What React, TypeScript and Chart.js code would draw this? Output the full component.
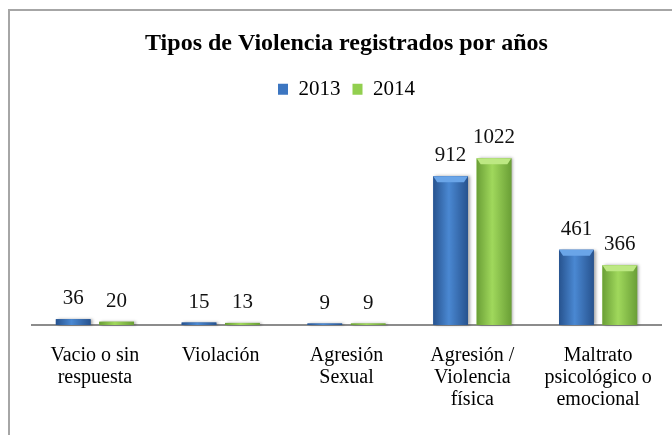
import React, { useEffect, useRef } from "react";
import { Chart, registerables } from "chart.js";

Chart.register(...registerables);

const chartTitle = "Tipos de Violencia registrados por años";
const categories: string[][] = [
  ["Vacio o sin", "respuesta"],
  ["Violación"],
  ["Agresión", "Sexual"],
  ["Agresión /", "Violencia", "física"],
  ["Maltrato", "psicológico o", "emocional"],
];
const seriesNames = ["2013", "2014"];
const values2013 = [36, 15, 9, 912, 461];
const values2014 = [20, 13, 9, 1022, 366];
const yMax = 1200;

const barStyles = [
  { base: "#3c76c1", edge: "#27538f", mid: "#4a88d2", top: "#6aa5e8" },
  { base: "#92cf4f", edge: "#6a9f36", mid: "#a0d85c", top: "#bde883" },
];

const serif = "'Liberation Serif', 'Times New Roman', serif";
const legendBoxHeight = 62.5;

const legendSpacer = {
  id: "legendSpacer",
  afterInit(chart: any) {
    const lg = chart.legend;
    if (!lg) return;
    const fit = lg.fit.bind(lg);
    lg.fit = () => {
      fit();
      lg.height = legendBoxHeight;
    };
  },
};

const barDecor = {
  id: "barDecor",
  afterDatasetsDraw(chart: any) {
    const ctx = chart.ctx;
    chart.data.datasets.forEach((ds: any, di: number) => {
      const meta = chart.getDatasetMeta(di);
      const st = barStyles[di];
      meta.data.forEach((el: any) => {
        const { x, y, width, base } = el.getProps(["x", "y", "width", "base"], true);
        const left = x - width / 2;
        const right = x + width / 2;
        const top = Math.min(y, base);
        const h = Math.abs(base - y);
        ctx.save();
        ctx.shadowColor = "rgba(0,0,0,0.35)";
        ctx.shadowOffsetX = 2;
        ctx.shadowOffsetY = 0;
        ctx.shadowBlur = 3;
        const g = ctx.createLinearGradient(left, 0, right, 0);
        g.addColorStop(0, st.edge);
        g.addColorStop(0.45, st.mid);
        g.addColorStop(1, st.edge);
        ctx.fillStyle = g;
        ctx.fillRect(left, top, width, h);
        ctx.restore();
        if (h > 10) {
          const bev = 6;
          ctx.save();
          ctx.fillStyle = st.top;
          ctx.beginPath();
          ctx.moveTo(left, top);
          ctx.lineTo(right, top);
          ctx.lineTo(right - 4, top + bev);
          ctx.lineTo(left + 4, top + bev);
          ctx.closePath();
          ctx.fill();
          ctx.restore();
        }
      });
    });
    ctx.save();
    ctx.font = `21px ${serif}`;
    ctx.fillStyle = "#111";
    ctx.textAlign = "center";
    ctx.textBaseline = "alphabetic";
    chart.data.datasets.forEach((ds: any, di: number) => {
      const meta = chart.getDatasetMeta(di);
      meta.data.forEach((el: any, i: number) => {
        const { x, y } = el.getProps(["x", "y"], true);
        ctx.fillText(String(ds.data[i]), x, y - 15);
      });
    });
    ctx.restore();
  },
};

export default function App() {
  const ref = useRef<HTMLCanvasElement | null>(null);
  useEffect(() => {
    if (!ref.current) return;
    const chart = new Chart(ref.current, {
      type: "bar",
      data: {
        labels: categories,
        datasets: [
          { label: seriesNames[0], data: values2013, backgroundColor: barStyles[0].base, borderWidth: 0 },
          { label: seriesNames[1], data: values2014, backgroundColor: barStyles[1].base, borderWidth: 0 },
        ],
      },
      options: {
        responsive: false,
        animation: false,
        devicePixelRatio: 1,
        layout: { padding: { left: 22, right: 21, top: 0, bottom: 4 } },
        datasets: { bar: { categoryPercentage: 0.69, barPercentage: 0.8 } },
        plugins: {
          title: {
            display: true,
            text: chartTitle,
            color: "#000",
            font: { family: serif, size: 24, weight: "bold" },
            padding: { top: 18, bottom: 9 },
          },
          legend: {
            display: true,
            position: "top",
            labels: {
              boxWidth: 10,
              boxHeight: 11,
              padding: 12,
              color: "#000",
              font: { family: serif, size: 21 },
            },
          },
          tooltip: { enabled: false },
        },
        scales: {
          x: {
            grid: { display: false, drawTicks: false },
            border: { display: true, color: "#8c8c8c", width: 2 },
            ticks: {
              color: "#000",
              padding: 20,
              autoSkip: false,
              maxRotation: 0,
              font: { family: serif, size: 20, lineHeight: 1.1 },
            },
          },
          y: { display: false, min: 0, max: yMax },
        },
      },
      plugins: [legendSpacer, barDecor],
    });
    return () => chart.destroy();
  }, []);
  return (
    <div
      style={{
        position: "fixed",
        left: 8,
        top: 9,
        width: 662,
        height: 430,
        overflow: "hidden",
        borderTop: "2px solid #a6a6a6",
        borderLeft: "2px solid #a6a6a6",
        background: "#fff",
      }}
    >
      <canvas ref={ref} width={672} height={424} style={{ display: "block" }} />
    </div>
  );
}
